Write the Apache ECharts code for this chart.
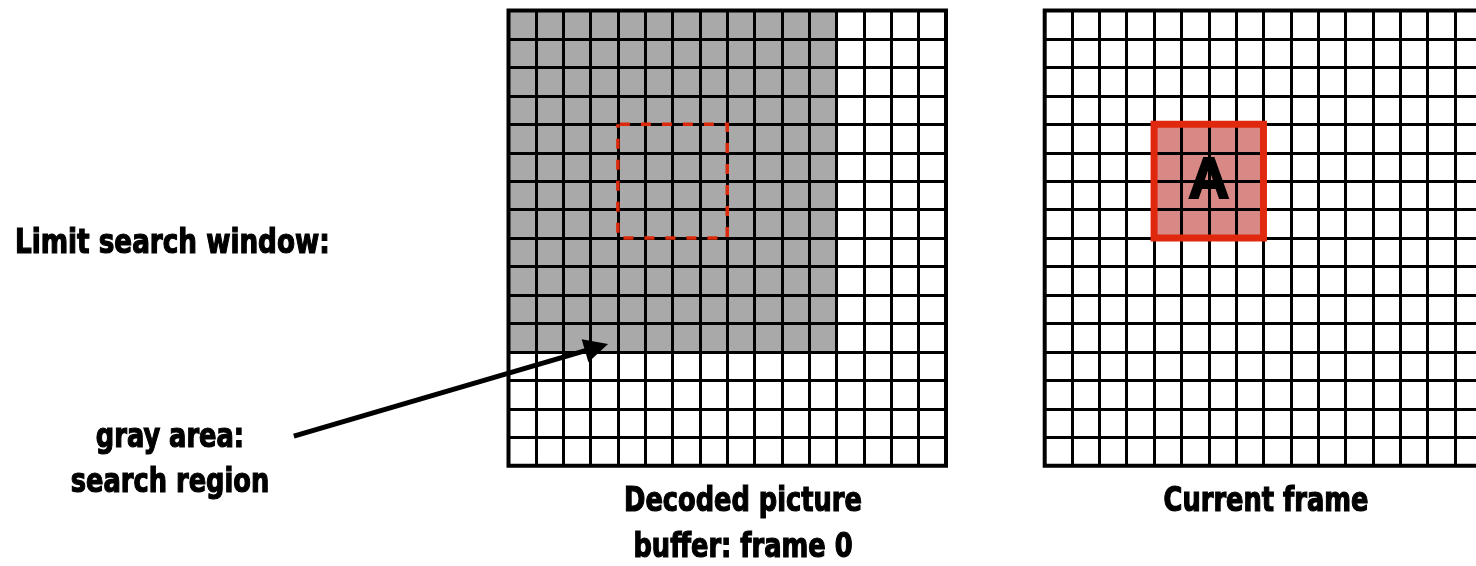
<!DOCTYPE html>
<html><head><meta charset="utf-8">
<script src="https://cdn.jsdelivr.net/npm/echarts@6/dist/echarts.min.js"></script>
<style>html,body{margin:0;padding:0;background:#fff}#c{width:1476px;height:566px}</style>
</head><body><div id="c"></div>
<script>
// ---- data ----
const gridCells = 16;                 // 16 x 16 blocks per frame
const searchRegion = [0, 0, 12, 12];  // [col0, row0, col1, row1] in decoded frame 0 (gray)
const searchBlock = [4, 4, 8, 8];     // dashed candidate block in frame 0
const currentBlock = [4, 4, 8, 8];    // block "A" in current frame
const blockLabel = 'A';
const arrowPath = [[-7.85, 14.96], [3.22, 11.84]]; // arrow in frame-0 block units
const leftTitle = 'Limit search window:';
const arrowNote = ['gray area:', 'search region'];
const frame0Caption = ['Decoded picture', 'buffer: frame 0'];
const currentCaption = 'Current frame';

const FONT = "'Liberation Sans Narrow', 'DejaVu Sans Condensed', 'Roboto Condensed', sans-serif";
const SX = 0.84; // horizontal squeeze to mimic a narrow bold face
const chart = echarts.init(document.getElementById('c'), null, {renderer: 'canvas'});

function axis(idx, inverse) {
  return {
    gridIndex: idx, type: 'value', min: 0, max: gridCells, interval: 1, inverse: inverse,
    axisLine: {show: false}, axisTick: {show: false}, axisLabel: {show: false},
    splitLine: {show: true, lineStyle: {color: '#000', width: 3}}, z: 3
  };
}
function rectOf(api, b) {
  const p0 = api.coord([b[0], b[1]]);
  const p1 = api.coord([b[2], b[3]]);
  return {x: Math.min(p0[0], p1[0]), y: Math.min(p0[1], p1[1]),
          width: Math.abs(p1[0] - p0[0]), height: Math.abs(p1[1] - p0[1])};
}
function gridOpt(left) {
  return {left: left, top: 10.5, width: 437.5, height: 455.2, show: true, containLabel: false,
          outerBoundsMode: 'none',
          borderColor: '#000', borderWidth: 4, backgroundColor: 'transparent', z: 4};
}
function txt(text, x, y, align, lh, sx) {
  return {type: 'text', x: x, y: y, scaleX: sx || SX, z: 10,
    style: {text: text, align: align, verticalAlign: 'middle', lineHeight: lh || 46,
      fontSize: 34, fontWeight: 'bold', fontFamily: FONT, fill: '#000',
      stroke: '#000', lineWidth: 1.2}};
}

chart.setOption({
  animation: false,
  backgroundColor: '#fff',
  grid: [gridOpt(508.5), gridOpt(1044.7)],
  xAxis: [axis(0, false), axis(1, false)],
  yAxis: [axis(0, true), axis(1, true)],
  series: [
    { type: 'custom', xAxisIndex: 0, yAxisIndex: 0, z: 1, data: [searchRegion],
      renderItem: (p, api) => ({type: 'rect', shape: rectOf(api, searchRegion), style: {fill: '#a9a9a9'}}) },
    { type: 'custom', xAxisIndex: 0, yAxisIndex: 0, z: 6, data: [searchBlock],
      renderItem: (p, api) => ({type: 'rect', shape: rectOf(api, searchBlock),
        style: {fill: 'none', stroke: '#dc2a0c', lineWidth: 3.5, lineDash: [10, 11], lineDashOffset: -2}}) },
    { type: 'custom', xAxisIndex: 1, yAxisIndex: 1, z: 1, data: [currentBlock],
      renderItem: (p, api) => ({type: 'rect', shape: rectOf(api, currentBlock), style: {fill: '#d98985'}}) },
    { type: 'custom', xAxisIndex: 1, yAxisIndex: 1, z: 6, data: [currentBlock],
      renderItem: (p, api) => {
        const r = rectOf(api, currentBlock);
        return {type: 'group', children: [
          {type: 'rect', shape: r, style: {fill: 'none', stroke: '#e0280f', lineWidth: 7}},
          {type: 'text', style: {text: blockLabel, x: r.x + r.width / 2, y: r.y + r.height / 2 + 1,
            align: 'center', verticalAlign: 'middle', fontSize: 57, fontWeight: 'bold',
            fontFamily: "'Liberation Sans', Arial, sans-serif", fill: '#000', stroke: '#000', lineWidth: 2}}
        ]};
      } },
    { type: 'lines', coordinateSystem: 'cartesian2d', xAxisIndex: 0, yAxisIndex: 0, z: 7, clip: false,
      symbol: ['none', 'triangle'], symbolSize: [18, 24],
      lineStyle: {color: '#000', width: 5, opacity: 1},
      data: [{coords: arrowPath}] }
  ],
  graphic: [
    txt(leftTitle, 15, 244, 'left', 46, 0.858),
    txt(arrowNote.join('\n'), 170, 461, 'center', 45),
    txt(frame0Caption.join('\n'), 743, 525, 'center', 46),
    txt(currentCaption, 1266, 502, 'center')
  ]
});
</script></body></html>
